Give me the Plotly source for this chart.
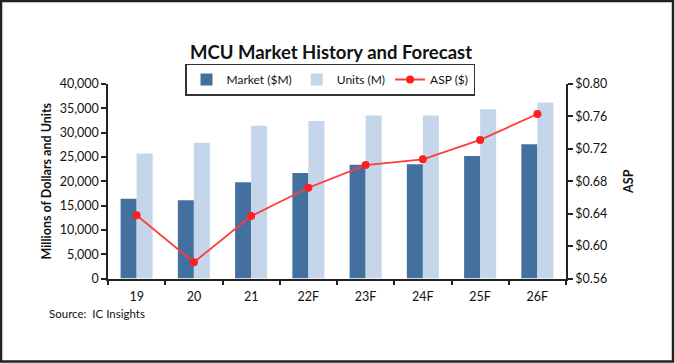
import plotly.graph_objects as go

categories = ["19", "20", "21", "22F", "23F", "24F", "25F", "26F"]
market = [16400, 16100, 19800, 21700, 23400, 23500, 25200, 27600]
units = [25700, 27900, 31400, 32400, 33500, 33500, 34800, 36200]
asp = [0.638, 0.580, 0.637, 0.672, 0.700, 0.707, 0.731, 0.763]

FONT = "Lato"
W, H = 675, 363
PL, PR, PT, PB = 108, 566, 84, 278.5

def px(x):
    return x / W

def py(y):
    return 1 - y / H

fig = go.Figure()
fig.add_trace(go.Bar(name="Market ($M)", x=categories, y=market,
                     marker=dict(color="#44709f", line=dict(width=0))))
fig.add_trace(go.Bar(name="Units (M)", x=categories, y=units,
                     marker=dict(color="#c6d6ea", line=dict(width=0))))
fig.add_trace(go.Scatter(name="ASP ($)", x=categories, y=asp, yaxis="y2",
                         mode="lines+markers",
                         line=dict(color="#ff3b3b", width=1.8),
                         marker=dict(color="#ff1f1f", size=8)))

fig.update_layout(
    width=W, height=H,
    margin=dict(l=0, r=0, t=0, b=0, autoexpand=False),
    paper_bgcolor="white", plot_bgcolor="white",
    font=dict(family=FONT, size=12.5, color="#111"),
    barmode="group", bargap=0.44, bargroupgap=0,
    showlegend=True,
    legend=dict(orientation="h", x=px(330), xanchor="center",
                y=py(79.5), yanchor="middle",
                bordercolor="#333", borderwidth=1.5, bgcolor="white",
                font=dict(family=FONT, size=12, color="#111"),
                itemwidth=30, tracegroupgap=0),
    xaxis=dict(domain=[px(PL), px(PR)], automargin=False,
               showline=True, linecolor="#222", linewidth=1.5,
               ticks="outside", tickson="boundaries", ticklen=5,
               tickcolor="#222", tickwidth=1.5, ticklabelstandoff=6,
               tickfont=dict(family=FONT, size=12.5, color="#111"),
               showgrid=False),
    yaxis=dict(domain=[py(PB), py(PT)], automargin=False,
               range=[0, 40000], dtick=5000, tickformat=",",
               showline=True, linecolor="#222", linewidth=1.5,
               ticks="outside", ticklen=5, tickcolor="#222", tickwidth=1.5,
               showgrid=False, zeroline=False,
               tickfont=dict(family=FONT, size=12.5, color="#111"),
               title=dict(text="<b>Millions of Dollars and Units</b>",
                          font=dict(family=FONT, size=12.5, color="#111"),
                          standoff=5)),
    yaxis2=dict(range=[0.56, 0.80], dtick=0.04, tickformat="$.2f",
                overlaying="y", side="right", automargin=False,
                showline=True, linecolor="#222", linewidth=1.5,
                ticks="outside", ticklen=5, tickcolor="#222", tickwidth=1.5,
                showgrid=False, zeroline=False,
                tickfont=dict(family=FONT, size=12.5, color="#111"),
                title=dict(text="<b>ASP</b>",
                           font=dict(family=FONT, size=12.5, color="#111"),
                           standoff=18)),
    annotations=[
        dict(text="<b>MCU Market History and Forecast</b>", xref="paper", yref="paper",
             x=px(331), y=py(52), xanchor="center", yanchor="middle",
             showarrow=False, font=dict(family=FONT, size=18.5, color="#111")),
        dict(text="Source:  IC Insights", xref="paper", yref="paper",
             x=px(47), y=py(313), xanchor="left", yanchor="middle",
             showarrow=False, font=dict(family=FONT, size=11.5, color="#111")),
    ],
    shapes=[
        dict(type="rect", xref="paper", yref="paper",
             x0=px(1), x1=px(673), y0=py(1), y1=py(361.5),
             line=dict(color="#222", width=2.5), fillcolor="rgba(0,0,0,0)", layer="above"),
    ],
)

fig.write_html("out.html", config={"displayModeBar": False},
               post_script="document.body.style.margin='0';document.body.style.padding='0';")
